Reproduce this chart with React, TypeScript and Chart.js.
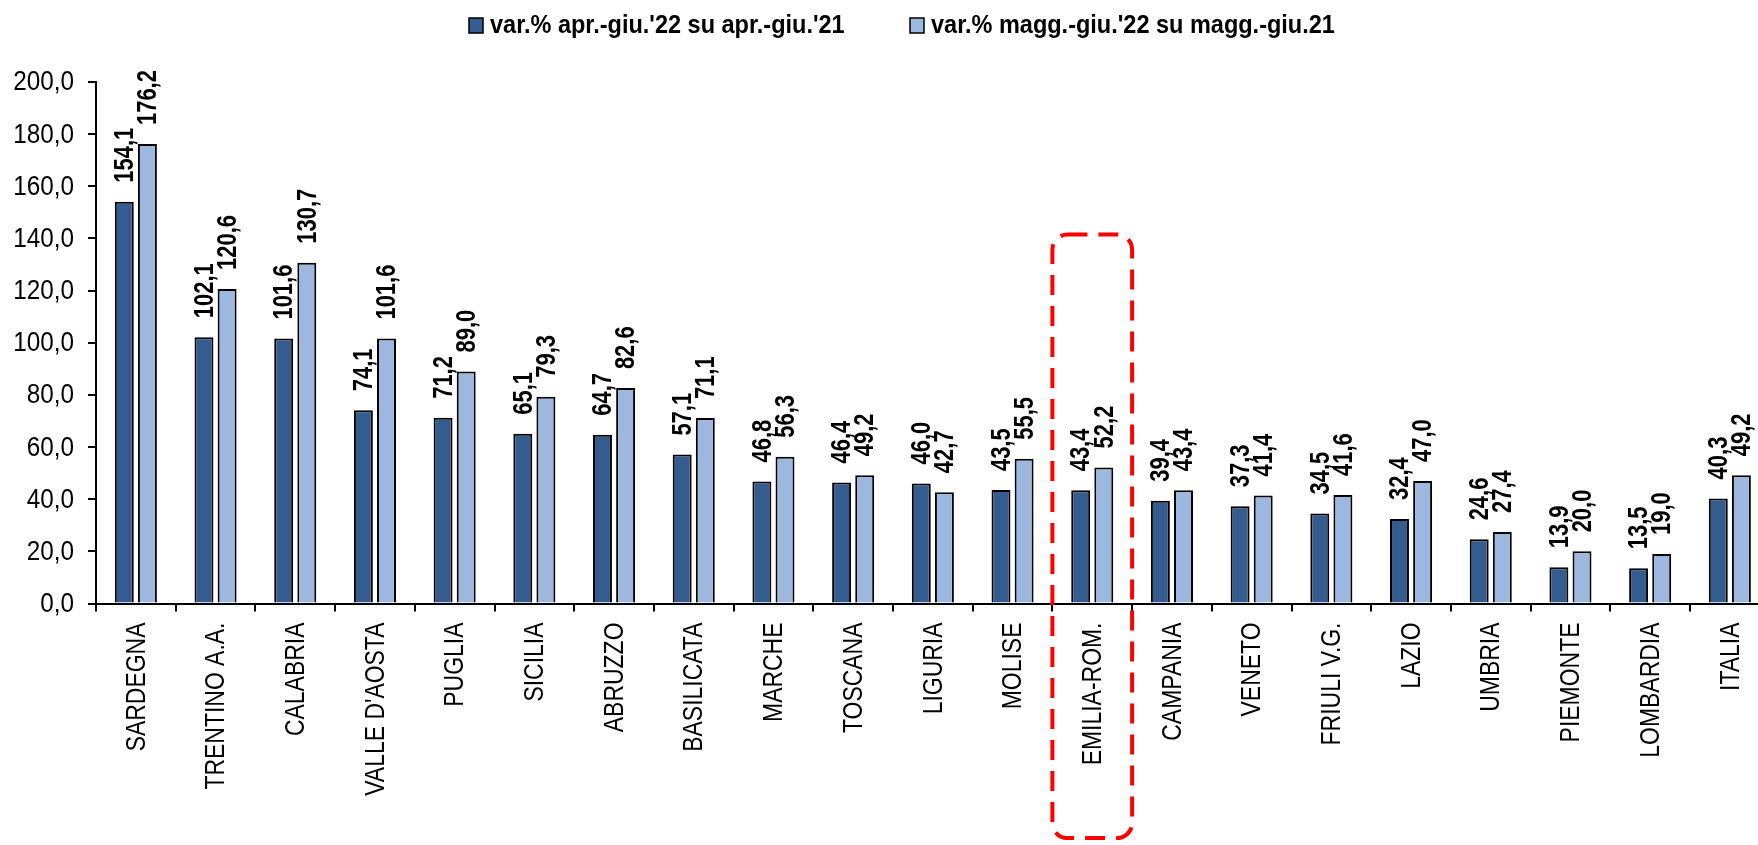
import React, { useEffect, useRef } from "react";
import { Chart, registerables } from "chart.js";

Chart.register(...registerables);

const categories = [
  "SARDEGNA", "TRENTINO A.A.", "CALABRIA", "VALLE D'AOSTA", "PUGLIA", "SICILIA",
  "ABRUZZO", "BASILICATA", "MARCHE", "TOSCANA", "LIGURIA", "MOLISE", "EMILIA-ROM.",
  "CAMPANIA", "VENETO", "FRIULI V.G.", "LAZIO", "UMBRIA", "PIEMONTE", "LOMBARDIA", "ITALIA",
];
const seriesAprGiu = [154.1, 102.1, 101.6, 74.1, 71.2, 65.1, 64.7, 57.1, 46.8, 46.4, 46.0, 43.5, 43.4, 39.4, 37.3, 34.5, 32.4, 24.6, 13.9, 13.5, 40.3];
const seriesMaggGiu = [176.2, 120.6, 130.7, 101.6, 89.0, 79.3, 82.6, 71.1, 56.3, 49.2, 42.7, 55.5, 52.2, 43.4, 41.4, 41.6, 47.0, 27.4, 20.0, 19.0, 49.2];
const seriesNames = ["var.% apr.-giu.'22 su apr.-giu.'21", "var.% magg.-giu.'22 su magg.-giu.21"];
const yTicks = [0, 20, 40, 60, 80, 100, 120, 140, 160, 180, 200];
const highlightCategory = "EMILIA-ROM.";

const FONT = "'Liberation Sans', Arial, sans-serif";
const DARK = "#345C8F";
const LIGHT = "#9DB8DF";
const fmt = (v: number) => v.toFixed(1).replace(".", ",");

function drawText(
  ctx: CanvasRenderingContext2D, text: string, x: number, y: number,
  rot: number, font: string, sx: number, align: CanvasTextAlign, baseline: CanvasTextBaseline,
) {
  ctx.save();
  ctx.translate(x, y);
  if (rot) ctx.rotate(rot);
  ctx.scale(sx, 1);
  ctx.font = font;
  ctx.textAlign = align;
  ctx.textBaseline = baseline;
  ctx.fillStyle = "#000";
  ctx.fillText(text, 0, 0);
  ctx.restore();
}

const overlayPlugin = {
  id: "overlay",
  afterDatasetsDraw(chart: any) {
    const ctx = chart.ctx;
    chart.data.datasets.forEach((ds: any, di: number) => {
      const meta = chart.getDatasetMeta(di);
      meta.data.forEach((bar: any, i: number) => {
        drawText(ctx, fmt(ds.data[i]), bar.x + 1, bar.y - 19, -Math.PI / 2,
          `bold 28px ${FONT}`, 0.785, "left", "middle");
      });
    });
  },
  afterDraw(chart: any) {
    const ctx = chart.ctx;
    const xs = chart.scales.x;
    const ys = chart.scales.y;

    // y tick labels
    yTicks.forEach((v) => {
      drawText(ctx, fmt(v), ys.right - 22, ys.getPixelForValue(v) + 1, 0,
        `27px ${FONT}`, 0.9, "right", "middle");
    });
    // x category labels
    categories.forEach((c, i) => {
      drawText(ctx, c, xs.getPixelForValue(i) + 1, xs.top + 19, -Math.PI / 2,
        `28px ${FONT}`, 0.82, "right", "middle");
    });

    // legend
    const items = [
      { x: 469, tx: 490, color: DARK, text: seriesNames[0] },
      { x: 910, tx: 931, color: LIGHT, text: seriesNames[1] },
    ];
    items.forEach((it) => {
      ctx.save();
      ctx.fillStyle = it.color;
      ctx.fillRect(it.x, 18, 14, 15);
      ctx.strokeStyle = "#000";
      ctx.lineWidth = 1.5;
      ctx.strokeRect(it.x, 18, 14, 15);
      ctx.restore();
      drawText(ctx, it.text, it.tx, 26, 0, `bold 25px ${FONT}`, 0.94, "left", "middle");
    });

    // highlight box
    const idx = categories.indexOf(highlightCategory);
    const cw = xs.getPixelForValue(1) - xs.getPixelForValue(0);
    const left = xs.getPixelForValue(idx) - cw / 2;
    const right = left + cw;
    const top = ys.getPixelForValue(141.5);
    const bottom = chart.height - 7;
    const r = 15;
    ctx.save();
    ctx.strokeStyle = "#FF0000";
    ctx.lineWidth = 4;
    ctx.setLineDash([20, 11]);
    ctx.beginPath();
    ctx.moveTo(left + r, top);
    ctx.lineTo(right - r, top);
    ctx.arcTo(right, top, right, top + r, r);
    ctx.lineTo(right, bottom - r);
    ctx.arcTo(right, bottom, right - r, bottom, r);
    ctx.lineTo(left + r, bottom);
    ctx.arcTo(left, bottom, left, bottom - r, r);
    ctx.lineTo(left, top + r);
    ctx.arcTo(left, top, left + r, top, r);
    ctx.stroke();
    ctx.restore();
  },
};

export default function App() {
  const ref = useRef<HTMLCanvasElement>(null);
  useEffect(() => {
    document.body.style.margin = "0";
    document.body.style.overflow = "hidden";
    const chart = new Chart(ref.current!, {
      type: "bar",
      data: {
        labels: categories,
        datasets: [
          {
            label: seriesNames[0],
            data: seriesAprGiu,
            backgroundColor: DARK,
            borderColor: "#000",
            borderWidth: 2,
            categoryPercentage: 0.58,
            barPercentage: 0.82,
          },
          {
            label: seriesNames[1],
            data: seriesMaggGiu,
            backgroundColor: LIGHT,
            borderColor: "#000",
            borderWidth: 2,
            categoryPercentage: 0.58,
            barPercentage: 0.82,
          },
        ],
      },
      options: {
        responsive: false,
        animation: false,
        devicePixelRatio: 1,
        layout: { padding: { top: 82, left: 0, right: 2.3, bottom: 0 } },
        plugins: { legend: { display: false }, tooltip: { enabled: false } },
        scales: {
          x: {
            offset: true,
            grid: {
              offset: true,
              drawOnChartArea: false,
              drawTicks: true,
              tickLength: 8,
              color: "#000",
              lineWidth: 2,
            },
            border: { display: true, color: "#000", width: 2 },
            ticks: { display: false, autoSkip: false },
            afterFit: (s: any) => {
              s.height = 845 - 603.5;
              s.paddingLeft = 0;
              s.paddingRight = 0;
            },
          },
          y: {
            min: 0,
            max: 200,
            grid: {
              drawOnChartArea: false,
              drawTicks: true,
              tickLength: 8,
              color: "#000",
              lineWidth: 2,
            },
            border: { display: true, color: "#000", width: 2 },
            ticks: { display: false, stepSize: 20 },
            afterFit: (s: any) => {
              s.width = 96;
              s.paddingTop = 0;
              s.paddingBottom = 0;
            },
          },
        },
      },
      plugins: [overlayPlugin],
    });
    return () => chart.destroy();
  }, []);
  return (
    <div style={{ position: "fixed", left: 0, top: 0, width: 1758, height: 845, overflow: "hidden", background: "#fff" }}>
      <canvas ref={ref} width={1772} height={845} style={{ display: "block" }} />
    </div>
  );
}
